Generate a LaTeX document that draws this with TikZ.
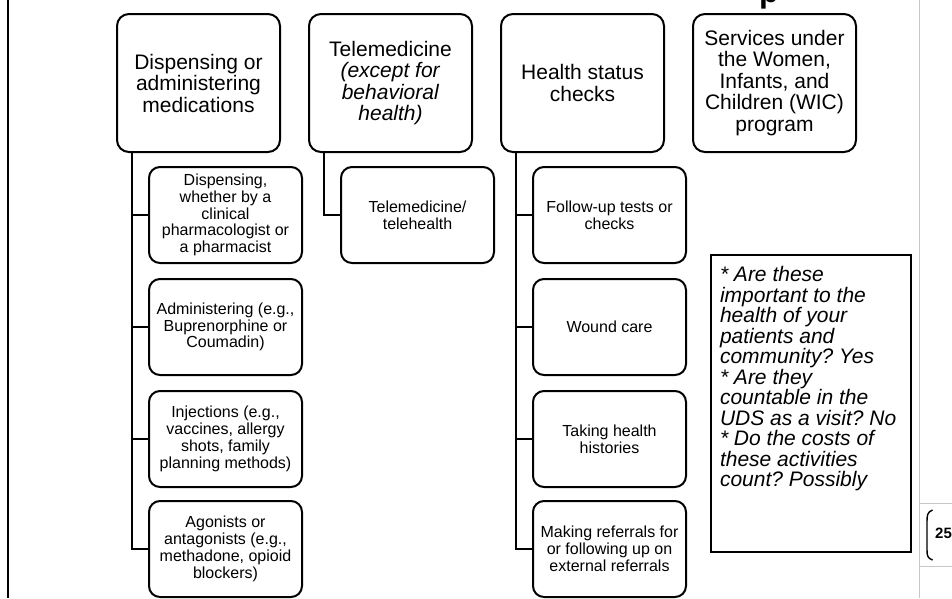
\documentclass[tikz,border=0pt]{standalone}
\usepackage{fontspec}
\setmainfont{Liberation Sans}
\usetikzlibrary{calc}
\frenchspacing
\tikzset{
  topbox/.style={draw, line width=2pt, rounded corners=12pt, minimum width=163pt, minimum height=138pt, inner sep=0pt, align=center, font=\fontsize{21}{21.5}\selectfont},
  subbox/.style={draw, line width=2pt, rounded corners=11pt, minimum width=153pt, minimum height=96pt, inner sep=0pt, align=center, font=\fontsize{16}{16.8}\selectfont},
  notebox/.style={draw, line width=2pt, minimum width=200pt, minimum height=297pt, inner sep=0pt, font=\fontsize{21}{20.5}\selectfont\itshape},
  conn/.style={line width=2.5pt},
  grayline/.style={draw=black!22, line width=1pt}
}
\begin{document}
\begin{tikzpicture}[x=1pt,y=-1pt]
\useasboundingbox (0,0) rectangle (952,598);
\fill[white] (0,0) rectangle (952,598);
% frame fragments
\draw[line width=2pt] (8,0) -- (8,598);
\draw[grayline] (919,0) -- (919,598);
\draw[grayline] (919,503) -- (952,503);
\draw[grayline] (919,566) -- (952,566);
\draw[line width=1.4pt] (932.5,510) .. controls (927,512) and (927,516) .. (927,522) -- (927,549) .. controls (927,555) and (927,558) .. (932.5,560);
\node[anchor=west, inner sep=0pt, font=\bfseries\fontsize{15}{15}\selectfont] (pagenum) at (935,533) {25};
\node[anchor=base west, inner sep=0pt, font=\bfseries\fontsize{32}{32}\selectfont] (title) at (759,2) {p};
% top boxes
\node[topbox] (b1) at (198.5,83) {Dispensing or\\administering\\medications};
\node[topbox] (b2) at (390.5,83) {Telemedicine\\\textit{(except for}\\\textit{behavioral}\\\textit{health)}};
\node[topbox] (b3) at (582.5,83) {Health status\\checks};
\node[topbox] (b4) at (774.5,83) {Services under\\the Women,\\Infants, and\\Children (WIC)\\program};
% children of b1
\node[subbox] (c11) at (225.5,215) {Dispensing,\\whether by a\\clinical\\pharmacologist or\\a pharmacist};
\node[subbox] (c12) at (225.5,327) {Administering (e.g.,\\Buprenorphine or\\Coumadin)};
\node[subbox] (c13) at (225.5,439) {Injections (e.g.,\\vaccines, allergy\\shots, family\\planning methods)};
\node[subbox] (c14) at (225.5,549) {Agonists or\\antagonists (e.g.,\\methadone, opioid\\blockers)};
% child of b2
\node[subbox] (c21) at (417.5,215) {Telemedicine/\\telehealth};
% children of b3
\node[subbox] (c31) at (609.5,215) {Follow-up tests or\\checks};
\node[subbox] (c32) at (609.5,327) {Wound care};
\node[subbox] (c33) at (609.5,439) {Taking health\\histories};
\node[subbox] (c34) at (609.5,549) {Making referrals for\\or following up on\\external referrals};
% connectors
\coordinate (t1) at ($(b1.south west)+(16,0)$);
\coordinate (t2) at ($(b2.south west)+(16,0)$);
\coordinate (t3) at ($(b3.south west)+(16,0)$);
\foreach \c in {c11,c12,c13,c14} \draw[conn] (t1) |- (\c.west);
\draw[conn] (t2) |- (c21.west);
\foreach \c in {c31,c32,c33,c34} \draw[conn] (t3) |- (\c.west);
% note
\node[notebox] (note) at (811,403.5) {\parbox[c][274pt][t]{182pt}{\raggedright
{*} Are these\\important to the\\health of your\\patients and\\community? Yes\\{*} Are they\\countable in the\\UDS as a visit? No\\{*} Do the costs of\\these activities\\count? Possibly}};
\end{tikzpicture}
\end{document}
